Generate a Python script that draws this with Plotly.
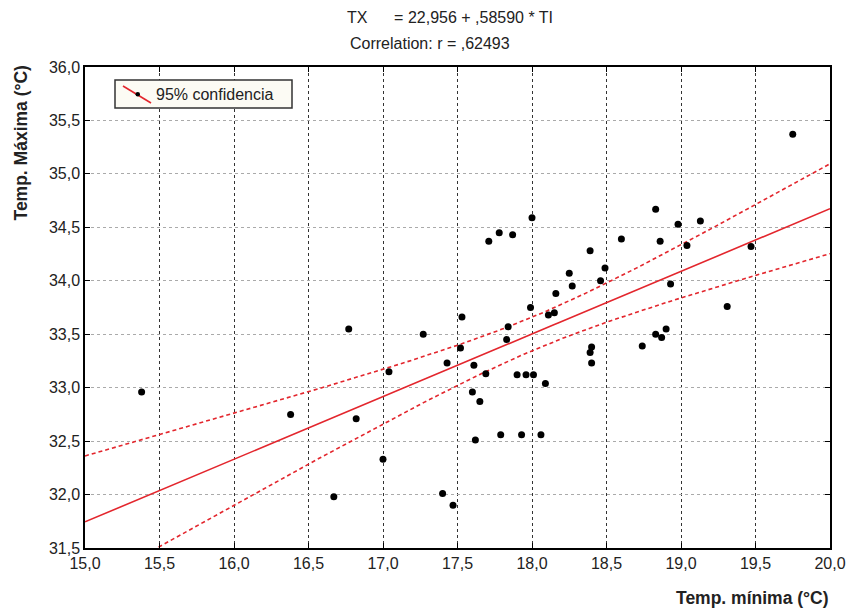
import numpy as np
import plotly.graph_objects as go

# Data (Temp. mínima, Temp. máxima)
temp_min = [15.38, 16.38, 16.67, 16.77, 16.82, 17.00, 17.04, 17.27, 17.40, 17.47,
            17.43, 17.52, 17.53, 17.60, 17.61, 17.62, 17.65, 17.69, 17.71, 17.78,
            17.79, 17.83, 17.84, 17.87, 17.90, 17.93, 17.96, 17.99, 18.00, 18.01,
            18.06, 18.09, 18.11, 18.15, 18.16, 18.25, 18.27, 18.39, 18.39, 18.40,
            18.40, 18.46, 18.49, 18.60, 18.74, 18.83, 18.83, 18.86, 18.87, 18.90,
            18.93, 18.98, 19.04, 19.13, 19.31, 19.47, 19.75]
temp_max = [32.96, 32.75, 31.98, 33.55, 32.71, 32.33, 33.15, 33.50, 32.01, 31.90,
            33.23, 33.37, 33.66, 32.96, 33.21, 32.51, 32.87, 33.13, 34.37, 34.45,
            32.56, 33.45, 33.57, 34.43, 33.12, 32.56, 33.12, 33.75, 34.59, 33.12,
            32.56, 33.04, 33.68, 33.70, 33.88, 34.07, 33.95, 34.28, 33.33, 33.38,
            33.23, 34.00, 34.12, 34.39, 33.39, 34.67, 33.50, 34.37, 33.47, 33.55,
            33.97, 34.53, 34.33, 34.56, 33.76, 34.32, 35.37]

intercept = 22.956
slope = 0.58590
x_ticks = [15.0, 15.5, 16.0, 16.5, 17.0, 17.5, 18.0, 18.5, 19.0, 19.5, 20.0]
y_ticks = [31.5, 32.0, 32.5, 33.0, 33.5, 34.0, 34.5, 35.0, 35.5, 36.0]

x = np.array(temp_min)
y = np.array(temp_max)
n = len(x)
xbar = x.mean()
sxx = ((x - xbar) ** 2).sum()
res = y - (intercept + slope * x)
s = np.sqrt((res ** 2).sum() / (n - 2))
t_val = 2.004

xf = np.linspace(15.0, 20.0, 201)
yf = intercept + slope * xf
half = t_val * s * np.sqrt(1.0 / n + (xf - xbar) ** 2 / sxx)

RED = "#e3262d"
fig = go.Figure()
fig.add_trace(go.Scatter(x=xf, y=yf + half, mode="lines",
                         line=dict(color=RED, width=1.6, dash="4px,3px"), hoverinfo="skip"))
fig.add_trace(go.Scatter(x=xf, y=yf - half, mode="lines",
                         line=dict(color=RED, width=1.6, dash="4px,3px"), hoverinfo="skip"))
fig.add_trace(go.Scatter(x=xf, y=yf, mode="lines",
                         line=dict(color=RED, width=1.6), hoverinfo="skip"))
fig.add_trace(go.Scatter(x=temp_min, y=temp_max, mode="markers",
                         marker=dict(color="black", size=7)))

L, R, T, B = 85, 20, 67, 62
W, H = 850, 610
pw, ph = W - L - R, H - T - B

def px(xp):
    return (xp - L) / pw

def py(yp):
    return 1 - (yp - T) / ph

axis_common = dict(showline=True, linecolor="black", linewidth=1.5, mirror="ticks",
                   ticks="inside", ticklen=5, tickcolor="black", tickwidth=1,
                   zeroline=False, tickformat=".1f", automargin=False,
                   tickfont=dict(family="Liberation Sans, Arial", size=16, color="#222"))

fig.update_layout(
    width=W, height=H, margin=dict(l=L, r=R, t=T, b=B, pad=0, autoexpand=False),
    plot_bgcolor="white", paper_bgcolor="white", showlegend=False,
    separators=", ",
    xaxis=dict(range=[15, 20], tickvals=x_ticks, showgrid=True, gridcolor="#333333",
               griddash="dot", gridwidth=1, **axis_common),
    yaxis=dict(range=[31.5, 36], tickvals=y_ticks, showgrid=True, gridcolor="#aaaaaa",
               griddash="dot", gridwidth=1, **axis_common),
    font=dict(family="Liberation Sans, Arial", color="#222"),
)

nb = "\u00a0"
ann = [
    dict(text="TX" + nb * 6 + "= 22,956 + ,58590 * TI", x=px(450), y=py(17), size=16, xa="center"),
    dict(text="Correlation: r = ,62493", x=px(430), y=py(44), size=16, xa="center"),
    dict(text="<b>Temp. mínima (°C)</b>", x=px(831), y=py(598), size=17.5, xa="right"),
    dict(text="95% confidencia", x=px(154), y=py(94), size=16, xa="left"),
]
for a in ann:
    fig.add_annotation(text=a["text"], x=a["x"], y=a["y"], xref="paper", yref="paper",
                       xanchor=a["xa"], yanchor="middle", showarrow=False,
                       font=dict(size=a["size"], color="#222", family="Liberation Sans, Arial"))
fig.add_annotation(text="<b>Temp. Máxima (°C)</b>", x=px(21), y=py(64), xref="paper", yref="paper",
                   xanchor="center", yanchor="top", textangle=-90, showarrow=False,
                   font=dict(size=17.5, color="#222", family="Liberation Sans, Arial"))

# legend box drawn manually
fig.add_shape(type="rect", xref="paper", yref="paper", x0=px(115), x1=px(292), y0=py(108), y1=py(80),
              line=dict(color="#333", width=1.5), fillcolor="#fcfbf4")
fig.add_shape(type="line", xref="paper", yref="paper", x0=px(123), y0=py(86), x1=px(151), y1=py(103),
              line=dict(color=RED, width=1.6))
fig.add_shape(type="circle", xref="paper", yref="paper", x0=px(135.5), x1=px(140), y0=py(96.5), y1=py(92),
              line=dict(color="black", width=0), fillcolor="black")

fig.write_html("out.html")
